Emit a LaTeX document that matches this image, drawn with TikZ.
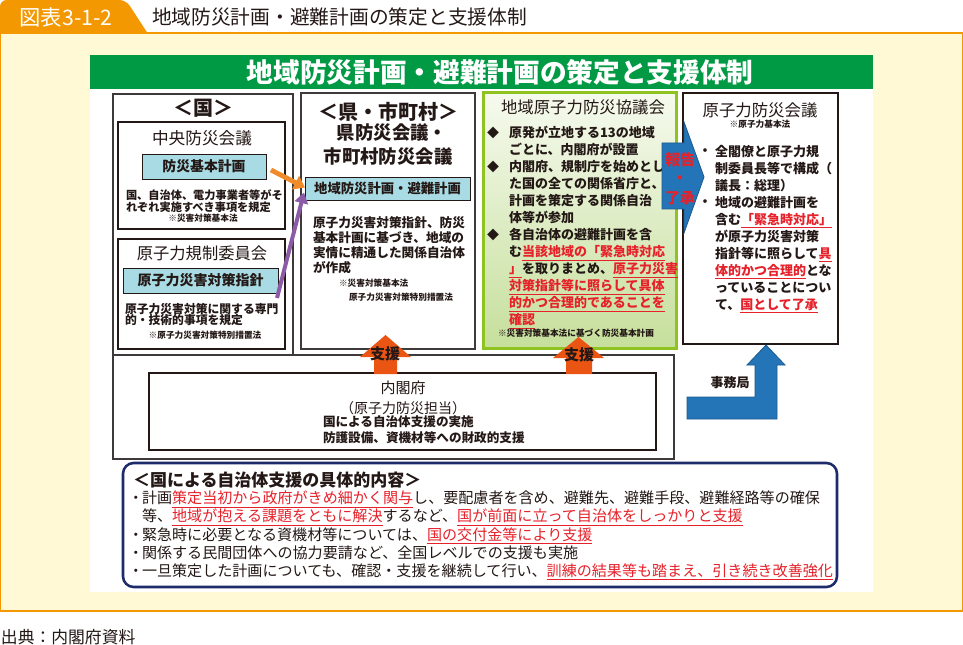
\documentclass[tikz,border=0pt]{standalone}
\usepackage{fontspec}
\setmainfont{Noto Sans CJK JP}
\usetikzlibrary{arrows.meta,calc}
\definecolor{jtxt}{HTML}{231815}
\definecolor{jred}{HTML}{E6212A}
\definecolor{tabor}{HTML}{F39800}
\definecolor{bgy}{HTML}{FFF9D6}
\definecolor{ghead}{HTML}{009944}
\definecolor{lblue}{HTML}{A8DBE3}
\definecolor{gbord}{HTML}{8FC31F}
\definecolor{gtop}{HTML}{F6FAEE}
\definecolor{gbot}{HTML}{C6DF9C}
\definecolor{oarrow}{HTML}{F08B2C}
\definecolor{parrow}{HTML}{8C5BA7}
\definecolor{supc}{HTML}{EA5514}
\definecolor{barrow}{HTML}{2475B7}
\definecolor{bdark}{HTML}{1A5A8F}
\definecolor{navy}{HTML}{1D2B6B}
\definecolor{bord}{HTML}{3E3A39}
\newcommand\rd[1]{{\color{jred}\underline{#1}}}
\newcommand\fs[2]{\fontsize{#1}{#2}\selectfont\lineskiplimit=-100pt\relax}
\begin{document}
\begin{tikzpicture}[x=0.75pt,y=-0.75pt,
  every node/.style={inner sep=0pt,outer sep=0pt,text=jtxt},
  thinbox/.style={draw=bord,line width=0.9pt},
  thickbox/.style={draw=jtxt,line width=1.9pt},
  bluebox/.style={draw=jtxt,line width=0.6pt,fill=lblue},
  blk/.style={align=left,anchor=north west},
  oar/.style={draw=oarrow,line width=3.6pt,-{Triangle[length=8pt,width=11pt]}},
  par/.style={draw=parrow,line width=3pt,-{Triangle[length=8pt,width=10pt]}},
  supar/.style={fill=supc},
  blar/.style={fill=barrow,draw=bdark,line width=0.6pt},
  small/.style={font=\fs{6.5pt}{8pt}\bfseries}
]
\useasboundingbox (0,0) rectangle (963,645);
% header tab
\fill[tabor,rounded corners=5pt] (0,40) -- (0,0) -- (126,0) -- (152,40) -- cycle;
\draw[draw=tabor,line width=1.1pt,fill=bgy] (0.6,33) rectangle (962.4,611);
\node[text=white,font=\fs{16pt}{18pt}] (tabt) at (66,17) {図表3-1-2};
\node[anchor=west,font=\fs{14.8pt}{18pt}] (ttl) at (152,17) {地域防災計画・避難計画の策定と支援体制};
\node[anchor=west,font=\fs{12.6pt}{14pt}] (src) at (1,637) {出典：内閣府資料};
% white panel + green head
\fill[white] (90,55) rectangle (873,592);
\fill[ghead] (90,55) rectangle (873,89);
\node[text=white,font=\fs{20pt}{22pt}\bfseries] (head) at (500,72) {地域防災計画・避難計画の策定と支援体制};
% column 1
\draw[thinbox] (113,94) rectangle (293,355);
\draw[thickbox] (118,122) rectangle (285,229);
\draw[thickbox] (118,239) rectangle (285,349);
\node[font=\fs{15pt}{18pt}\bfseries] (k0) at (203,108) {＜国＞};
\node[font=\fs{12.5pt}{15pt}] (k1) at (202,138) {中央防災会議};
\node[bluebox,minimum width=93pt,minimum height=18.75pt,font=\fs{10.4pt}{12pt}\bfseries] (b1) at (204,166.5) {防災基本計画};
\node[blk,font=\fs{8.4pt}{8.8pt}\bfseries] (k2) at (126,188.1) {\rule{0pt}{1em}国、自治体、電力事業者等がそ\\れぞれ実施すべき事項を規定};
\node[small] (k3) at (203,218.5) {※災害対策基本法};
\node[font=\fs{12.2pt}{15pt}] (k4) at (202,253) {原子力規制委員会};
\node[bluebox,minimum width=116.25pt,minimum height=18.75pt,font=\fs{10.5pt}{12pt}\bfseries] (b2) at (200.5,280.5) {原子力災害対策指針};
\node[blk,font=\fs{8.85pt}{8.6pt}\bfseries] (k5) at (125,301.7) {\rule{0pt}{1em}原子力災害対策に関する専門\\的・技術的事項を規定};
\node[small] (k6) at (205,335) {※原子力災害対策特別措置法};
% column 2
\draw[thinbox] (301,93) rectangle (475,349);
\node[font=\fs{15pt}{18pt}\bfseries] (m0) at (388,112) {＜県・市町村＞};
\node[font=\fs{13.8pt}{18pt}\bfseries] (m1) at (392,133) {県防災会議・};
\node[font=\fs{13.8pt}{18pt}\bfseries] (m2) at (388,157) {市町村防災会議};
\node[bluebox,minimum width=123.75pt,minimum height=17.25pt,font=\fs{10pt}{12pt}\bfseries] (b3) at (387.5,188.5) {地域防災計画・避難計画};
\node[blk,font=\fs{9.5pt}{11.25pt}\bfseries] (m3) at (313,215.1) {\rule{0pt}{1em}原子力災害対策指針、防災\\基本計画に基づき、地域の\\実情に精通した関係自治体\\が作成};
\node[small,anchor=west] (m4) at (339,283) {※災害対策基本法};
\node[small,anchor=west] (m5) at (349,297) {原子力災害対策特別措置法};
% column 3 (green)
\shade[top color=gtop,bottom color=gbot] (483,93) rectangle (676,348);
\draw[draw=gbord,line width=2.25pt] (483,93) rectangle (676,348);
\node[font=\fs{12.3pt}{15pt}] (g0) at (583,107) {地域原子力防災協議会};
\node[font=\fs{9pt}{10pt}] (d1) at (493,133) {◆};
\node[font=\fs{9pt}{10pt}] (d2) at (493,167) {◆};
\node[font=\fs{9pt}{10pt}] (d3) at (493,235) {◆};
\node[blk,font=\fs{9.75pt}{12.75pt}\bfseries] (g1) at (509,124.9) {\rule{0pt}{1em}原発が立地する13の地域\\ごとに、内閣府が設置\\内閣府、規制庁を始めとし\\た国の全ての関係省庁と、\\計画を策定する関係自治\\体等が参加\\各自治体の避難計画を含\\む\rd{当該地域の「緊急時対応}\\\rd{」}を取りまとめ、\rd{原子力災害}\\\rd{対策指針等に照らして具体}\\\rd{的かつ合理的であることを}\\\rd{確認}};
\node[small] (g2) at (576,333) {※災害対策基本法に基づく防災基本計画};
% column 4
\draw[thickbox] (683,93) rectangle (838,344);
\node[font=\fs{12.3pt}{15pt}] (r0) at (760,110) {原子力防災会議};
\node[small] (r1) at (760,124) {※原子力基本法};
\node[font=\fs{9.75pt}{12pt}\bfseries] (rb1) at (705,152) {・};
\node[font=\fs{9.75pt}{12pt}\bfseries] (rb2) at (705,203) {・};
\node[blk,font=\fs{9.75pt}{12.68pt}\bfseries] (r2) at (715,143.9) {\rule{0pt}{1em}全閣僚と原子力規\\制委員長等で構成（\\議長：総理）\\地域の避難計画を\\含む\rd{「緊急時対応」}\\が原子力災害対策\\指針等に照らして\rd{具}\\\rd{体的かつ合理的}とな\\っていることについ\\て、\rd{国として了承}};
% lower box (cabinet office)
\draw[thinbox] (113,355) rectangle (674,459);
\draw[draw=jtxt,line width=2.2pt] (149,373) rectangle (656,450);
\node[font=\fs{11.25pt}{14pt}] (c0) at (403,388) {内閣府};
\node[font=\fs{10.5pt}{14pt}] (c1) at (403,408) {（原子力防災担当）};
\node[blk,font=\fs{9.45pt}{12pt}\bfseries] (c2) at (323,414.2) {\rule{0pt}{1em}国による自治体支援の実施\\防護設備、資機材等への財政的支援};
% support arrows
\fill[supar] (374,374) -- (374,357) -- (360,357) -- (385.5,335) -- (411,357) -- (397,357) -- (397,374) -- cycle;
\node[font=\fs{11.25pt}{13pt}\bfseries] (s1) at (385,354) {支援};
\fill[supar] (566,374) -- (566,358) -- (553,358) -- (578.5,337) -- (604,358) -- (592,358) -- (592,374) -- cycle;
\node[font=\fs{11.25pt}{13pt}\bfseries] (s2) at (579,355) {支援};
% secretariat arrow
\filldraw[blar] (687,397) -- (755,397) -- (755,365) -- (747,365) -- (766,345) -- (785,365) -- (777,365) -- (777,419) -- (687,419) -- cycle;
\node[font=\fs{9.75pt}{12pt}\bfseries] (jm) at (730,383) {事務局};
% report arrow
\filldraw[blar] (662,143) -- (684,143) -- (684,122) -- (704,177) -- (684,233) -- (684,209) -- (662,209) -- cycle;
\node[text=jred,font=\fs{11.25pt}{13pt}\bfseries] (hk1) at (680,160) {報告};
\node[text=jred,font=\fs{11.25pt}{13pt}\bfseries] (hk2) at (680,180) {・};
\node[text=jred,font=\fs{11.25pt}{13pt}\bfseries] (hk3) at (680,198) {了承};
% connectors
\coordinate (otail) at (271,170);
\draw[oar] (otail) -- ($(b3.west)+(0,-1)$);
\draw[par] ($(b2.south east)+(-1,5)$) -- ($(b3.west)+(-1,4)$);
% bottom box
\draw[draw=navy,line width=1.9pt,rounded corners=8pt,fill=white] (123,463) rectangle (837,587);
\node[anchor=west,font=\fs{12.75pt}{15pt}\bfseries] (h0) at (133,480) {＜国による自治体支援の具体的内容＞};
\node[blk,font=\fs{11.3pt}{13.6pt}] (h1) at (130,488.7) {\rule{0pt}{1em}\makebox[9pt][c]{・}計画\rd{策定当初から政府がきめ細かく関与}し、要配慮者を含め、避難先、避難手段、避難経路等の確保\\\hspace*{9pt}等、\rd{地域が抱える課題をともに解決}するなど、\rd{国が前面に立って自治体をしっかりと支援}\\\makebox[9pt][c]{・}緊急時に必要となる資機材等については、\rd{国の交付金等により支援}\\\makebox[9pt][c]{・}関係する民間団体への協力要請など、全国レベルでの支援も実施\\\makebox[9pt][c]{・}一旦策定した計画についても、確認・支援を継続して行い、\rd{訓練の結果等も踏まえ、引き続き改善強化}};
\end{tikzpicture}
\end{document}
